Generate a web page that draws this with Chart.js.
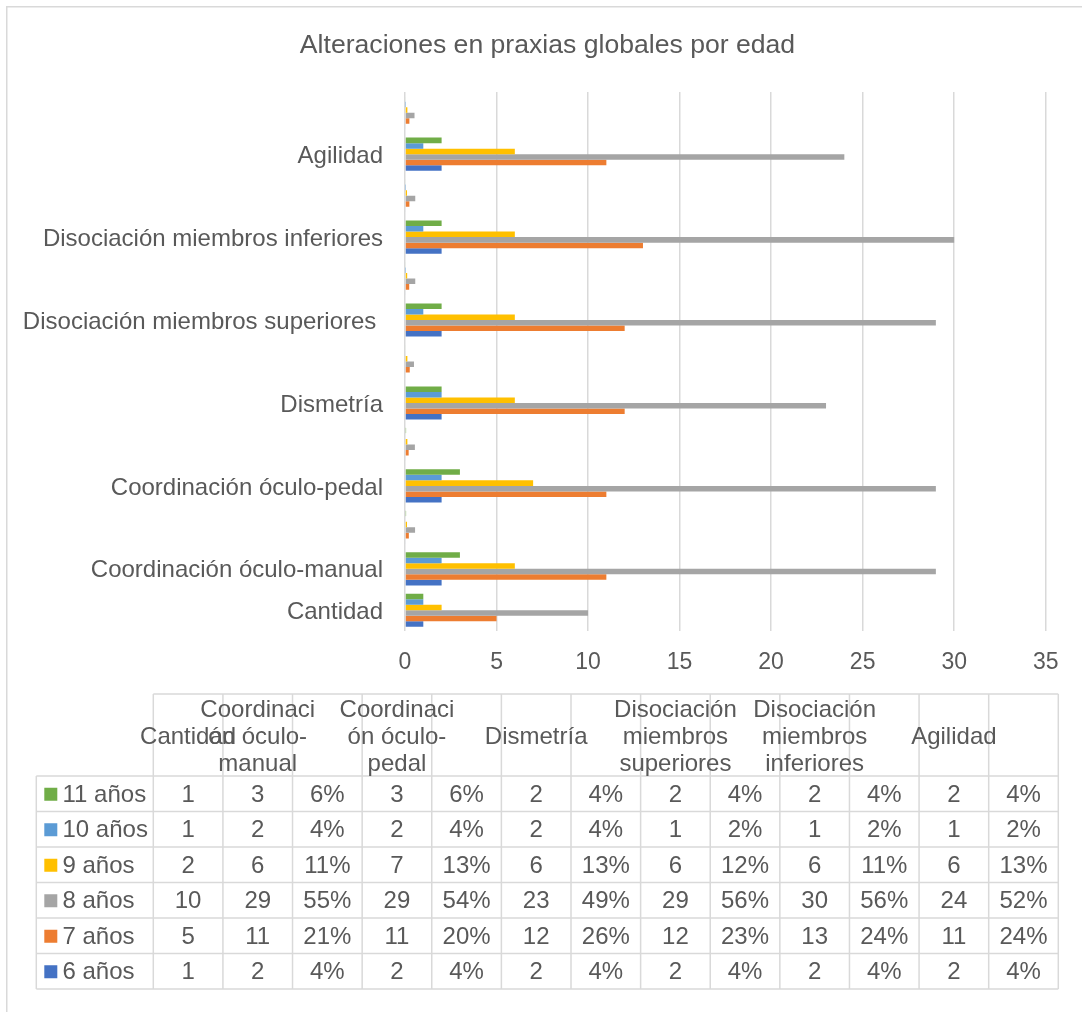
<!DOCTYPE html>
<html lang="es">
<head>
<meta charset="utf-8">
<title>Alteraciones en praxias globales por edad</title>
<script src="https://cdn.jsdelivr.net/npm/chart.js@4.4.1/dist/chart.umd.min.js"></script>
<style>
  html, body { margin: 0; padding: 0; background: #ffffff; }
  #wrap { width: 1082px; height: 1012px; position: relative; }
</style>
</head>
<body>
<div id="wrap"><canvas id="chart" width="1082" height="1012"></canvas></div>
<script>
// Categories (empty labels are the percentage columns of the preceding item)
const categories = [
  'Cantidad',
  'Coordinación óculo-manual', '',
  'Coordinación óculo-pedal', '',
  'Dismetría', '',
  'Disociación miembros superiores ', '',
  'Disociación miembros inferiores', '',
  'Agilidad', ''
];
// 'n' = count, 'p' = share shown as a percentage
const columnFormat = ['n', 'n', 'p', 'n', 'p', 'n', 'p', 'n', 'p', 'n', 'p', 'n', 'p'];

const seriesNames = ['11 años', '10 años', '9 años', '8 años', '7 años', '6 años'];
const seriesColors = ['#70AD47', '#5B9BD5', '#FFC000', '#A5A5A5', '#ED7D31', '#4472C4'];

const age11 = [1, 3, 0.06, 3, 0.06, 2, 0.04, 2, 0.04, 2, 0.04, 2, 0.04];
const age10 = [1, 2, 0.04, 2, 0.04, 2, 0.04, 1, 0.02, 1, 0.02, 1, 0.02];
const age9  = [2, 6, 0.11, 7, 0.13, 6, 0.13, 6, 0.12, 6, 0.11, 6, 0.13];
const age8  = [10, 29, 0.55, 29, 0.54, 23, 0.49, 29, 0.56, 30, 0.56, 24, 0.52];
const age7  = [5, 11, 0.21, 11, 0.20, 12, 0.26, 12, 0.23, 13, 0.24, 11, 0.24];
const age6  = [1, 2, 0.04, 2, 0.04, 2, 0.04, 2, 0.04, 2, 0.04, 2, 0.04];
const seriesValues = [age11, age10, age9, age8, age7, age6];

const xTicksMin = 0, xTicksMax = 35, xTicksStep = 5;
const chartTitle = 'Alteraciones en praxias globales por edad';

const FONT = "'Liberation Sans', Arial, Helvetica, sans-serif";
const TEXT = '#595959';
const LINE = '#d9d9d9';

function formatCell(v, fmt) {
  return fmt === 'p' ? Math.round(v * 100) + '%' : String(v);
}

// Wrap a header label: break at spaces and after hyphens, split over-long words by characters
function wrapLabel(ctx, text, maxW) {
  const tokens = [];
  text.trim().split(' ').forEach((w, i, arr) => {
    const parts = w.split(/(?<=-)/);
    parts.forEach((p, j) => tokens.push({ t: p, space: j === parts.length - 1 && i < arr.length - 1 }));
  });
  const lines = [];
  let cur = '';
  const push = () => { if (cur.trim() !== '') lines.push(cur.trim()); cur = ''; };
  tokens.forEach(tok => {
    const piece = tok.t + (tok.space ? ' ' : '');
    if (ctx.measureText((cur + tok.t)).width <= maxW) {
      cur += piece;
      return;
    }
    if (cur !== '') push();
    if (ctx.measureText(tok.t).width <= maxW) {
      cur = piece;
      return;
    }
    let chunk = '';
    for (const ch of tok.t) {
      if (ctx.measureText(chunk + ch).width > maxW) { lines.push(chunk); chunk = ch; }
      else chunk += ch;
    }
    cur = chunk + (tok.space ? ' ' : '');
  });
  push();
  return lines;
}

// Frame, title and the data table under the plot
const decorations = {
  id: 'decorations',
  afterDraw(chart) {
    const ctx = chart.ctx;
    ctx.save();

    // outer frame
    ctx.strokeStyle = LINE;
    ctx.lineWidth = 1.5;
    ctx.strokeRect(6.75, 6.75, 1200, 1200);

    // title
    ctx.fillStyle = TEXT;
    ctx.font = '26.6px ' + FONT;
    ctx.textAlign = 'center';
    ctx.textBaseline = 'middle';
    ctx.fillText(chartTitle, 547.5, 46);

    // data table
    const L = 153.3, R = 1058.3, legendL = 36.3;
    const headTop = 694, headBottom = 776, rowH = 35.5;
    const n = categories.length;
    const colW = (R - L) / n;
    const bottom = headBottom + rowH * seriesNames.length;

    ctx.strokeStyle = LINE;
    ctx.lineWidth = 1.5;
    ctx.beginPath();
    ctx.moveTo(L, headTop); ctx.lineTo(R, headTop);
    for (let r = 0; r <= seriesNames.length; r++) {
      const y = headBottom + r * rowH;
      ctx.moveTo(legendL, y); ctx.lineTo(R, y);
    }
    for (let c = 0; c <= n; c++) {
      const x = L + c * colW;
      ctx.moveTo(x, headTop); ctx.lineTo(x, bottom);
    }
    ctx.moveTo(legendL, headBottom); ctx.lineTo(legendL, bottom);
    ctx.stroke();

    ctx.font = '24px ' + FONT;
    ctx.fillStyle = TEXT;
    ctx.textBaseline = 'middle';
    ctx.textAlign = 'center';

    // header labels
    const lineH = 27;
    const headMid = (headTop + headBottom) / 2;
    categories.forEach((cat, c) => {
      if (!cat) return;
      const lines = wrapLabel(ctx, cat, 125);
      const cx = L + (c + 0.5) * colW;
      const y0 = headMid - (lines.length - 1) * lineH / 2;
      lines.forEach((ln, i) => ctx.fillText(ln, cx, y0 + i * lineH + 2));
    });

    // rows
    seriesNames.forEach((name, r) => {
      const cy = headBottom + (r + 0.5) * rowH + 1.5;
      ctx.fillStyle = seriesColors[r];
      ctx.fillRect(44.3, cy - 7.5, 13, 13);
      ctx.fillStyle = TEXT;
      ctx.textAlign = 'left';
      ctx.fillText(name, 62.5, cy);
      ctx.textAlign = 'center';
      seriesValues[r].forEach((v, c) => {
        ctx.fillText(formatCell(v, columnFormat[c]), L + (c + 0.5) * colW, cy);
      });
    });

    ctx.restore();
  }
};

const datasets = seriesNames.map((name, i) => ({
  label: name,
  data: seriesValues[i],
  backgroundColor: seriesColors[i],
  borderWidth: 0,
  categoryPercentage: 0.8,
  barPercentage: 1.0
}));

new Chart(document.getElementById('chart'), {
  type: 'bar',
  data: { labels: categories, datasets },
  options: {
    indexAxis: 'y',
    responsive: false,
    animation: false,
    devicePixelRatio: 1,
    layout: { padding: { top: 92, right: 36.3, left: 0, bottom: 0 } },
    plugins: {
      legend: { display: false },
      tooltip: { enabled: false },
      title: { display: false }
    },
    scales: {
      x: {
        min: xTicksMin,
        max: xTicksMax,
        ticks: {
          stepSize: xTicksStep,
          color: TEXT,
          font: { family: FONT, size: 23 },
          padding: 18,
          maxRotation: 0
        },
        grid: { color: LINE, lineWidth: 1.5, drawTicks: false },
        border: { display: false },
        afterFit(scale) { scale.height = 1012 - 631; }
      },
      y: {
        reverse: true,
        ticks: {
          color: TEXT,
          font: { family: FONT, size: 24 },
          padding: 22,
          labelOffset: 2,
          autoSkip: false
        },
        grid: { display: false, drawTicks: false },
        border: { display: false },
        afterFit(scale) { scale.width = 405; }
      }
    }
  },
  plugins: [decorations]
});
</script>
</body>
</html>
